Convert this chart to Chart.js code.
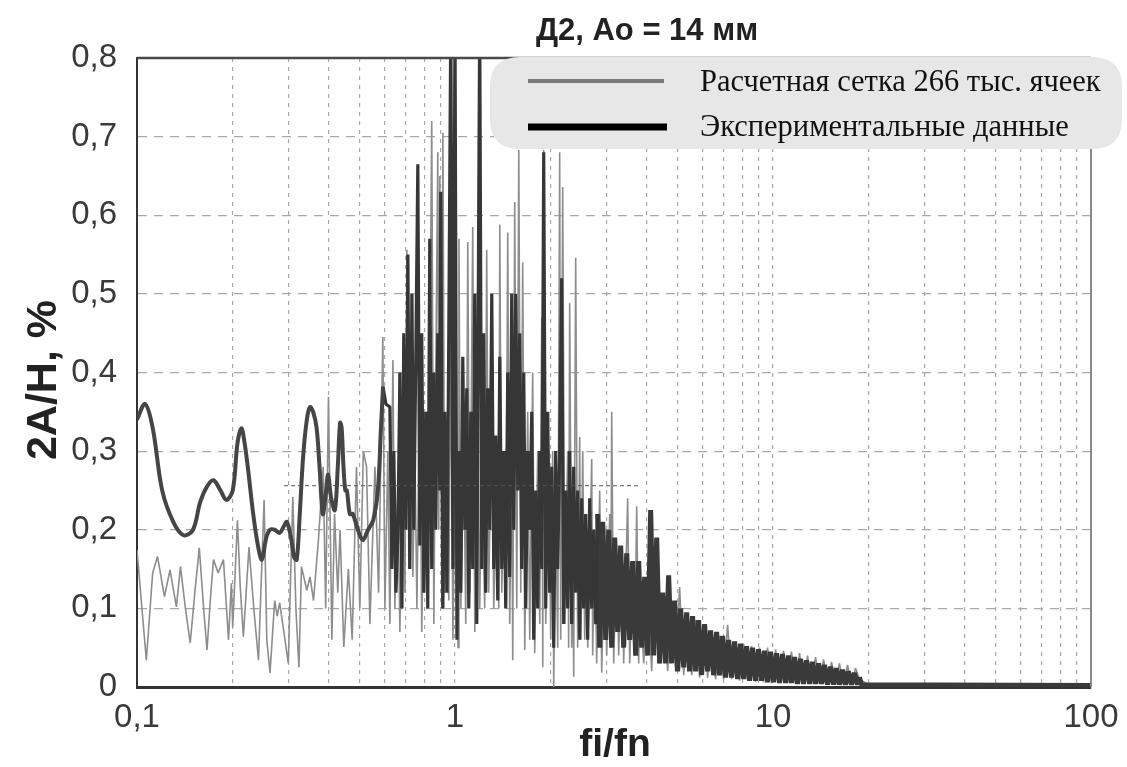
<!DOCTYPE html>
<html>
<head>
<meta charset="utf-8">
<script src="https://cdn.jsdelivr.net/npm/chart.js@4.4.1/dist/chart.umd.min.js"></script>
<style>
  html, body { margin: 0; padding: 0; background: #ffffff; }
  #wrap { width: 1127px; height: 767px; }
</style>
</head>
<body>
<div id="wrap"><canvas id="c" width="1127" height="767"></canvas></div>
<script>
// ---------- Text ----------
const TITLE = 'Д2, Ао = 14 мм';
const X_TITLE = 'fi/fn';
const Y_TITLE = '2А/Н, %';
const LEGEND_LABELS = ['Расчетная сетка 266 тыс. ячеек', 'Экспериментальные данные'];

// ---------- Ticks ----------
const X_TICK_VALUES = [0.1, 1, 10, 100];
const X_TICK_LABELS = ['0,1', '1', '10', '100'];
const X_GRID_VALUES = [0.1,0.2,0.3,0.4,0.5,0.6,0.7,0.8,0.9,
                       1,2,3,4,5,6,7,8,9,
                       10,20,30,40,50,60,70,80,90,100];

// ---------- Computed series (grey, thin): frequency ratio / amplitude ----------
const CALC_F = [
 0.100,0.107,0.112,0.116,0.122,0.127,0.133,0.137,0.142,0.147,
 0.152,0.157,0.162,0.166,0.170,0.174,0.180,0.187,0.194,0.198,
 0.200,0.207,0.211,0.216,0.225,0.233,0.241,0.251,0.256,0.262,
 0.271,0.276,0.281,0.292,0.299,0.309,0.316,0.323,0.329,0.342,
 0.350,0.359,0.372,0.385,0.392,0.400,0.410,0.418,0.428,0.435,
 0.447,0.462,0.475,0.490,0.502,0.515,0.527,0.540,0.560,0.575,
 0.593,0.602,0.615,0.624,0.638,0.647,0.661,0.671,0.686,0.696,
 0.706,0.716,0.726,0.737,0.748,0.759,0.775,0.786,0.803,0.821,
 0.845,0.858,0.870,0.883,0.889,0.896,0.909,0.916,0.929,0.943,
 0.956,0.970,0.985,1.007,1.022,1.029,1.043,1.066,1.081,1.097,
 1.113,1.137,1.154,1.179,1.196,1.214,1.240,1.258,1.276,1.305,
 1.324,1.353,1.373,1.383,1.403,1.434,1.444,1.465,1.486,1.508,
 1.519,1.541,1.564,1.587,1.610,1.633,1.657,1.693,1.718,1.755,
 1.781,1.820,1.847,1.874,1.888,1.901,1.929,1.971,2.000,2.029,
 2.044,2.073,2.104,2.134,2.150,2.181,2.213,2.261,2.277,2.294,
 2.328,2.345,2.362,2.396,2.431,2.467,2.485,2.521,2.558,2.595,
 2.614,2.691,2.710,2.750,2.790,2.851,2.893,2.956,2.999,3.065,
 3.088,3.110,3.155,3.224,3.271,3.343,3.392,3.491,3.542,3.620,
 3.673,3.727,3.781,
 3.807,3.920,4.036,4.155,4.278,4.400,4.529,4.663,4.800,4.942,
 5.085,5.237,5.391,5.550,5.709,5.876,6.050,6.228,6.411,6.600,
 6.792,6.992,7.198,7.410,7.628,7.849,8.083,8.320,8.560,8.813,
 9.071,9.340,9.614,9.896,10.19,10.48,10.79,11.11,11.43,11.77,
 12.12,12.47,12.84,13.22,13.61,14.00,14.42,14.84,15.28,15.73,
 16.18,16.66,17.15,17.65,18.17,18.70,20.0,100
];
const CALC_A = [
 0.174,0.034,0.145,0.166,0.115,0.149,0.102,0.153,0.100,0.056,
 0.120,0.177,0.100,0.047,0.110,0.162,0.145,0.162,0.060,0.132,
 0.076,0.212,0.130,0.064,0.178,0.100,0.034,0.238,0.060,0.018,
 0.110,0.090,0.107,0.060,0.030,0.242,0.100,0.025,0.153,0.123,
 0.140,0.110,0.187,0.280,0.100,0.369,0.060,0.220,0.120,0.200,
 0.051,0.150,0.060,0.280,0.100,0.300,0.280,0.080,0.280,0.120,
 0.445,0.100,0.300,0.080,0.416,0.100,0.250,0.070,0.350,0.120,
 0.556,0.150,0.450,0.140,0.300,0.100,0.400,0.070,0.300,0.100,
 0.720,0.080,0.400,0.680,0.200,0.650,0.100,0.705,0.120,0.300,
 0.110,0.450,0.060,0.350,0.050,0.570,0.100,0.300,0.080,0.566,
 0.120,0.585,0.070,0.400,0.100,0.300,0.100,0.556,0.120,0.350,
 0.100,0.250,0.100,0.588,0.120,0.300,0.100,0.578,0.080,0.300,
 0.034,0.617,0.100,0.683,0.120,0.540,0.047,0.350,0.060,0.400,
 0.043,0.300,0.080,0.470,0.025,0.683,0.080,0.300,0.060,0.300,
 0.000,0.250,0.050,0.680,0.060,0.636,0.080,0.300,0.050,0.488,
 0.050,0.200,0.013,0.546,0.050,0.318,0.060,0.300,0.060,0.200,
 0.050,0.290,0.040,0.200,0.030,0.250,0.018,0.200,0.040,0.220,
 0.050,0.350,0.030,0.180,0.040,0.170,0.030,0.240,0.030,0.150,
 0.040,0.230,0.030,
 0.130,0.030,0.120,0.020,0.187,0.030,0.110,0.020,0.100,0.020,
 0.127,0.015,0.090,0.015,0.085,0.012,0.075,0.012,0.070,0.010,
 0.065,0.010,0.079,0.010,0.058,0.008,0.055,0.008,0.052,0.006,
 0.050,0.006,0.050,0.005,0.048,0.005,0.046,0.005,0.045,0.004,
 0.043,0.004,0.040,0.004,0.038,0.004,0.035,0.003,0.032,0.003,
 0.030,0.003,0.028,0.003,0.024,0.010,0.003,0.003
];

// ---------- Experimental series (black, thick): smooth low-frequency part ----------
const EXP_LOW_F = [
 0.100,0.106,0.112,0.120,0.130,0.140,0.150,0.158,0.166,0.174,
 0.183,0.191,0.200,0.207,0.213,0.218,0.223,0.232,0.240,0.247,
 0.255,0.262,0.271,0.281,0.290,0.296,0.305,0.312,0.318,0.325,
 0.333,0.342,0.350,0.358,0.367,0.375,0.384,0.392,0.399,0.408,
 0.419,0.428,0.435,0.440,0.446,0.452,0.457,0.467,0.477,0.495,
 0.513,0.533,0.553,0.572,0.585,0.594
];
const EXP_LOW_A = [
 0.340,0.360,0.330,0.250,0.210,0.193,0.200,0.235,0.255,0.263,
 0.250,0.238,0.250,0.310,0.329,0.310,0.280,0.220,0.180,0.162,
 0.190,0.200,0.200,0.196,0.205,0.210,0.190,0.165,0.162,0.220,
 0.293,0.340,0.356,0.350,0.330,0.280,0.220,0.245,0.270,0.240,
 0.225,0.280,0.336,0.330,0.280,0.250,0.250,0.220,0.220,0.200,
 0.187,0.200,0.212,0.250,0.330,0.382
];

// ---------- Experimental series (black, thick): resonance band and tail ----------
const EXP_HIGH_F = [
 0.594,0.606,0.624,0.633,0.642,0.652,0.661,0.671,0.681,0.690,
 0.701,0.711,0.721,0.732,0.742,0.753,0.764,0.775,0.786,0.798,
 0.809,0.821,0.833,0.845,0.858,0.870,0.883,0.896,0.902,0.916,
 0.929,0.943,0.956,0.970,0.985,1.000,1.014,1.029,1.043,1.058,
 1.074,1.089,1.105,1.121,1.137,1.154,1.171,1.188,1.196,1.214,
 1.231,1.249,1.267,1.286,1.305,1.324,1.343,1.363,1.383,1.403,
 1.424,1.444,1.465,1.486,1.508,1.530,1.552,1.575,1.598,1.621,
 1.645,1.669,1.693,1.718,1.743,1.768,1.794,1.820,1.847,1.874,
 1.901,1.929,1.957,1.985,2.014,2.044,2.073,2.104,2.134,2.165,
 2.197,2.229,2.261,2.294,2.328,2.362,2.396,2.431,2.467,2.503,
 2.539,2.576,2.614,2.652,2.691,2.730,2.770,2.810,
 2.851,2.914,2.978,3.043,3.110,3.178,3.248,3.319,3.392,3.467,
 3.542,3.620,3.700,3.781,3.864,3.949,4.036,4.124,4.215,4.308,
 4.400,4.497,4.596,4.697,4.800,4.906,5.014,5.124,5.237,5.352,
 5.466,5.586,5.709,5.834,5.963,6.094,6.228,6.364,6.504,6.647,
 6.792,6.942,7.094,7.250,7.410,7.572,7.739,7.909,8.083,8.260,
 8.438,8.624,8.813,9.007,9.205,9.407,9.614,9.825,10.04,10.26,
 10.48,10.71,10.95,11.19,11.43,11.69,11.94,12.21,12.47,12.75,
 13.03,13.31,13.61,13.91,14.21,14.52,14.84,15.17,15.50,15.84,
 16.18,16.54,16.90,17.27,17.65,18.04,18.44,18.70,19.0,100
];
const EXP_HIGH_A = [
 0.382,0.360,0.356,0.150,0.300,0.120,0.190,0.400,0.100,0.450,
 0.200,0.550,0.150,0.500,0.200,0.420,0.665,0.180,0.450,0.120,
 0.350,0.100,0.570,0.150,0.400,0.200,0.450,0.250,0.630,0.100,
 0.350,0.120,0.450,0.850,0.150,0.850,0.060,0.300,0.120,0.420,
 0.200,0.380,0.100,0.350,0.150,0.500,0.080,0.630,0.850,0.150,
 0.450,0.120,0.380,0.200,0.500,0.150,0.320,0.110,0.420,0.150,
 0.300,0.100,0.400,0.140,0.500,0.200,0.500,0.250,0.450,0.150,
 0.400,0.100,0.300,0.200,0.350,0.060,0.250,0.100,0.300,0.150,
 0.680,0.100,0.350,0.120,0.280,0.050,0.300,0.150,0.300,0.520,
 0.080,0.250,0.100,0.300,0.080,0.280,0.120,0.250,0.060,0.240,
 0.100,0.220,0.060,0.240,0.100,0.200,0.080,0.220,
 0.050,0.210,0.060,0.200,0.050,0.190,0.070,0.180,0.050,0.170,
 0.060,0.160,0.040,0.160,0.050,0.140,0.040,0.225,0.040,0.190,
 0.030,0.120,0.030,0.142,0.030,0.110,0.020,0.100,0.025,0.095,
 0.020,0.090,0.020,0.085,0.015,0.080,0.020,0.072,0.015,0.070,
 0.015,0.065,0.012,0.060,0.012,0.058,0.010,0.055,0.010,0.052,
 0.008,0.050,0.008,0.048,0.008,0.046,0.006,0.045,0.006,0.043,
 0.005,0.042,0.005,0.040,0.005,0.038,0.004,0.036,0.004,0.034,
 0.004,0.032,0.004,0.030,0.004,0.028,0.003,0.026,0.003,0.024,
 0.003,0.022,0.003,0.020,0.003,0.018,0.003,0.012,0.003,0.002
];

// ---------- Thin dashed reference line seen in the figure ----------
const REF_F = [0.29, 3.85];
const REF_A = [0.256, 0.256];

const TAIL_START = 2.81;   // where the experimental curve becomes a dense decaying band

function pts(fs, as) {
  const n = Math.min(fs.length, as.length);
  const out = [];
  for (let i = 0; i < n; i++) out.push({x: fs[i], y: as[i]});
  return out;
}
const expHigh = pts(EXP_HIGH_F, EXP_HIGH_A);
const expBand = expHigh.filter(p => p.x <= TAIL_START);
const expTail = expHigh.filter(p => p.x >= TAIL_START);

const SANS = '"Liberation Sans", Arial, sans-serif';
const SERIF = '"Liberation Serif", "Times New Roman", serif';
Chart.defaults.font.family = SANS;

function roundRect(ctx, x, y, w, h, r) {
  ctx.beginPath();
  ctx.moveTo(x + r, y);
  ctx.lineTo(x + w - r, y);
  ctx.quadraticCurveTo(x + w, y, x + w, y + r);
  ctx.lineTo(x + w, y + h - r);
  ctx.quadraticCurveTo(x + w, y + h, x + w - r, y + h);
  ctx.lineTo(x + r, y + h);
  ctx.quadraticCurveTo(x, y + h, x, y + h - r);
  ctx.lineTo(x, y + r);
  ctx.quadraticCurveTo(x, y, x + r, y);
  ctx.closePath();
}

const decor = {
  id: 'decor',
  afterDatasetsDraw(chart) {
    const ctx = chart.ctx, a = chart.chartArea;
    ctx.save();
    ctx.strokeStyle = '#4a4a4a'; ctx.lineWidth = 2.5;
    ctx.beginPath(); ctx.moveTo(a.left, a.top); ctx.lineTo(a.right, a.top); ctx.stroke();
    ctx.strokeStyle = '#8a8a8a'; ctx.lineWidth = 2;
    ctx.beginPath(); ctx.moveTo(a.right, a.top); ctx.lineTo(a.right, a.bottom); ctx.stroke();
    roundRect(ctx, 490, 57, 632, 92, 30);
    ctx.fillStyle = '#e7e7e7'; ctx.fill();
    ctx.lineCap = 'butt';
    ctx.strokeStyle = '#7a7a7a'; ctx.lineWidth = 4;
    ctx.beginPath(); ctx.moveTo(528, 81); ctx.lineTo(664, 81); ctx.stroke();
    ctx.strokeStyle = '#000000'; ctx.lineWidth = 7;
    ctx.beginPath(); ctx.moveTo(528, 127); ctx.lineTo(667, 127); ctx.stroke();
    ctx.fillStyle = '#111111';
    ctx.font = '30.5px ' + SERIF;
    ctx.textAlign = 'left'; ctx.textBaseline = 'middle';
    ctx.fillText(LEGEND_LABELS[0], 700, 83);
    ctx.fillText(LEGEND_LABELS[1], 700, 128);
    ctx.restore();
  },
  afterDraw(chart) {
    const ctx = chart.ctx;
    ctx.save();
    ctx.fillStyle = '#222222';
    ctx.textAlign = 'center'; ctx.textBaseline = 'middle';
    ctx.font = 'bold 31px ' + SANS;
    ctx.fillText(TITLE, 647, 31);
    ctx.font = 'bold 39px ' + SANS;
    ctx.fillText(X_TITLE, 615, 745);
    ctx.translate(44, 380);
    ctx.rotate(-Math.PI / 2);
    ctx.font = 'bold 43px ' + SANS;
    ctx.fillText(Y_TITLE, 0, 0);
    ctx.restore();
  }
};

new Chart(document.getElementById('c'), {
  type: 'scatter',
  data: {
    datasets: [
      { label: LEGEND_LABELS[0], data: pts(CALC_F, CALC_A), showLine: true,
        borderColor: '#8d8d8d', borderWidth: 1.6, borderJoinStyle: 'bevel',
        pointRadius: 0, tension: 0, order: 3 },
      { label: LEGEND_LABELS[1], data: pts(EXP_LOW_F, EXP_LOW_A), showLine: true,
        borderColor: '#454545', borderWidth: 4, borderJoinStyle: 'round',
        pointRadius: 0, tension: 0.35, order: 2 },
      { label: LEGEND_LABELS[1], data: expBand, showLine: true,
        borderColor: '#363636', borderWidth: 3.2, borderJoinStyle: 'bevel',
        pointRadius: 0, tension: 0, order: 2 },
      { label: LEGEND_LABELS[1], data: expTail, showLine: true,
        borderColor: '#3a3a3a', borderWidth: 5, borderJoinStyle: 'bevel',
        pointRadius: 0, tension: 0, order: 2 },
      { label: 'ref', data: pts(REF_F, REF_A), showLine: true,
        borderColor: '#555555', borderWidth: 1, borderDash: [4, 3], pointRadius: 0, order: 0 }
    ]
  },
  options: {
    responsive: false,
    animation: false,
    events: [],
    layout: { padding: { top: 58, right: 36, left: 0, bottom: 0 } },
    plugins: { legend: { display: false }, title: { display: false }, tooltip: { enabled: false } },
    scales: {
      x: {
        type: 'logarithmic', min: 0.1, max: 100,
        afterBuildTicks(scale) { scale.ticks = X_GRID_VALUES.map(v => ({ value: v })); },
        afterFit(scale) { scale.height = 80; scale.paddingLeft = 0; scale.paddingRight = 0; },
        grid: { color: '#a8a8a8', lineWidth: 1.2, drawTicks: false },
        border: { display: true, color: '#333333', width: 3, dash: [4, 5] },
        ticks: {
          autoSkip: false, maxRotation: 0, padding: 11, color: '#3a3a3a',
          font: { size: 33, family: SANS },
          callback(v) {
            for (let i = 0; i < X_TICK_VALUES.length; i++) {
              if (Math.abs(v - X_TICK_VALUES[i]) / X_TICK_VALUES[i] < 1e-6) return X_TICK_LABELS[i];
            }
            return '';
          }
        }
      },
      y: {
        min: 0, max: 0.8,
        afterFit(scale) { scale.width = 137; scale.paddingTop = 0; scale.paddingBottom = 0; },
        grid: { color: '#a8a8a8', lineWidth: 1.2, drawTicks: false },
        border: { display: true, color: '#333333', width: 2, dash: [9, 7] },
        ticks: {
          stepSize: 0.1, padding: 20, color: '#3a3a3a',
          font: { size: 33, family: SANS },
          callback(v) { return Math.abs(v) < 1e-9 ? '0' : v.toFixed(1).replace('.', ','); }
        }
      }
    }
  },
  plugins: [decor]
});
</script>
</body>
</html>
